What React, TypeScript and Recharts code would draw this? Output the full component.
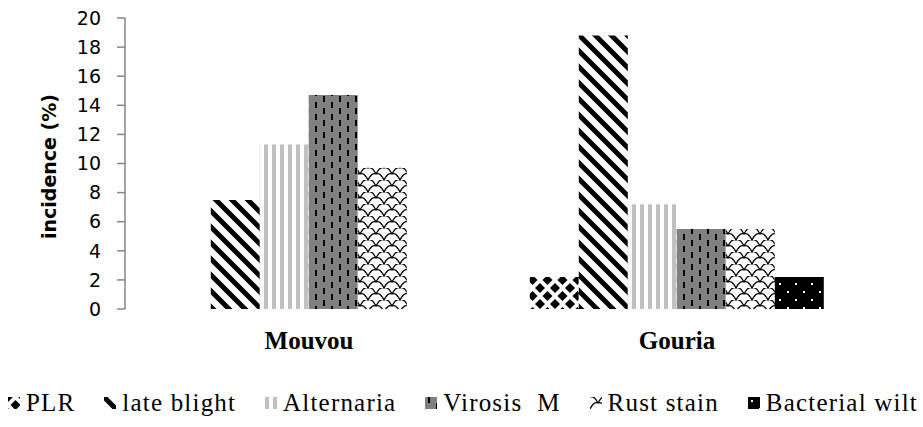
import React from "react";
import { BarChart, Bar, XAxis, YAxis, Legend } from "recharts";

const categories = ["Mouvou", "Gouria"];
const plr = [0, 2.2];
const lateBlight = [7.5, 18.8];
const alternaria = [11.3, 7.2];
const virosisM = [14.7, 5.5];
const rustStain = [9.7, 5.5];
const bacterialWilt = [0, 2.2];
const yTicks = [0, 2, 4, 6, 8, 10, 12, 14, 16, 18, 20];

const SERIES = [
  { key: "plr", name: "PLR", values: plr, fill: "url(#pat-plr)" },
  { key: "lateBlight", name: "late blight", values: lateBlight, fill: "url(#pat-late)" },
  { key: "alternaria", name: "Alternaria", values: alternaria, fill: "url(#pat-alt)" },
  { key: "virosisM", name: "Virosis  M", values: virosisM, fill: "url(#pat-vir)" },
  { key: "rustStain", name: "Rust stain", values: rustStain, fill: "url(#pat-rust)" },
  { key: "bacterialWilt", name: "Bacterial wilt", values: bacterialWilt, fill: "url(#pat-bact)" },
];

const data = categories.map((name, i) => {
  const row: Record<string, string | number> = { name };
  SERIES.forEach((s) => (row[s.key] = s.values[i]));
  return row;
});

const AXIS_GREY = "#868686";
const SANS = "DejaVu Sans";
const SERIF = "'Liberation Serif', serif";

function Patterns() {
  return (
    <svg width={0} height={0} style={{ position: "absolute" }}>
      <defs>
        <pattern id="pat-plr" width={15} height={16} patternUnits="userSpaceOnUse">
          <rect width={15} height={16} fill="#fff" />
          <polygon points="7.5,3 12.5,8 7.5,13 2.5,8" fill="#000" />
          <polygon points="0,-5 5,0 0,5 -5,0" fill="#000" />
          <polygon points="15,-5 20,0 15,5 10,0" fill="#000" />
          <polygon points="0,11 5,16 0,21 -5,16" fill="#000" />
          <polygon points="15,11 20,16 15,21 10,16" fill="#000" />
        </pattern>
        <pattern id="pat-late" width={16} height={16} patternUnits="userSpaceOnUse">
          <rect width={16} height={16} fill="#fff" />
          <path d="M-2,-2 L18,18 M-6,10 L6,22 M10,-6 L22,6" stroke="#000" strokeWidth={5} />
        </pattern>
        <pattern id="pat-alt" width={8} height={8} patternUnits="userSpaceOnUse">
          <rect width={8} height={8} fill="#fff" />
          <rect x={0} width={4} height={8} fill="#c0c0c0" />
        </pattern>
        <pattern id="pat-vir" width={16} height={12} patternUnits="userSpaceOnUse">
          <rect width={16} height={12} fill="#808080" />
          <rect x={3} y={0} width={2} height={6} fill="#000" />
          <rect x={11} y={6} width={2} height={6} fill="#000" />
        </pattern>
        <pattern id="pat-rust" width={16} height={12} patternUnits="userSpaceOnUse">
          <rect width={16} height={12} fill="#fff" />
          <path
            d="M0,12 Q4,4 8,6 Q12,4 16,12 M-8,6 Q-4,-2 0,0 Q4,-2 8,6 M8,6 Q12,-2 16,0 Q20,-2 24,6"
            stroke="#000"
            strokeWidth={1.3}
            fill="none"
          />
        </pattern>
        <pattern id="pat-bact" width={16} height={16} patternUnits="userSpaceOnUse">
          <rect width={16} height={16} fill="#000" />
          <rect x={3} y={3} width={2} height={2} fill="#fff" />
          <rect x={11} y={11} width={2} height={2} fill="#fff" />
        </pattern>
      </defs>
    </svg>
  );
}

function LegendContent() {
  return (
    <div
      style={{
        display: "flex",
        justifyContent: "space-between",
        alignItems: "center",
        lineHeight: "26px",
        color: "#000",
      }}
    >
      {SERIES.map((s) => (
        <span key={s.key} style={{ display: "flex", alignItems: "center" }}>
          <svg width={12} height={12} style={{ marginRight: 6 }}>
            <rect width={12} height={12} fill={s.fill} />
          </svg>
          <span style={{ fontFamily: SERIF, fontSize: 25, letterSpacing: 1.2, whiteSpace: "pre" }}>
            {s.name}
          </span>
        </span>
      ))}
    </div>
  );
}

function YLabel(props: any) {
  const vb = props.viewBox || { x: 0, y: 18, height: 291 };
  const x = 49;
  const y = vb.y + vb.height / 2 + 3;
  return (
    <text
      x={x}
      y={y}
      transform={`rotate(-90, ${x}, ${y})`}
      textAnchor="middle"
      dominantBaseline="central"
      fontFamily={SANS}
      fontWeight="bold"
      fontSize={19}
      fill="#000"
    >
      incidence (%)
    </text>
  );
}

export default function App() {
  return (
    <div style={{ position: "absolute", left: 0, top: 0, background: "#fff" }}>
      <Patterns />
      <BarChart
        width={923}
        height={427}
        data={data}
        margin={{ top: 18, right: 62, left: 0, bottom: 0 }}
        barCategoryGap="10%"
        barGap={0}
      >
        <XAxis
          xAxisId="frame"
          type="number"
          domain={[0, 2]}
          ticks={[0, 1, 2]}
          allowDataOverflow
          height={0}
          tick={false}
          tickSize={7}
          tickLine={{ stroke: AXIS_GREY, strokeWidth: 1.5 }}
          axisLine={{ stroke: AXIS_GREY, strokeWidth: 1.5 }}
        />
        <XAxis
          xAxisId="cat"
          dataKey="name"
          height={118}
          axisLine={false}
          tickLine={false}
          tickSize={6}
          tickMargin={16}
          tick={{ fontFamily: SERIF, fontWeight: "bold", fontSize: 25, fill: "#000" }}
        />
        <YAxis
          width={125}
          domain={[0, 20]}
          ticks={yTicks}
          interval={0}
          tickSize={8}
          tickMargin={16}
          tick={{ fontFamily: SANS, fontSize: 19, fill: "#000" }}
          tickLine={{ stroke: AXIS_GREY, strokeWidth: 1.5 }}
          axisLine={{ stroke: AXIS_GREY, strokeWidth: 1.5 }}
          label={<YLabel />}
        />
        <Legend
          layout="vertical"
          align="center"
          verticalAlign="middle"
          wrapperStyle={{ position: "absolute", top: 390, left: 8, width: 910 }}
          content={<LegendContent />}
        />
        {SERIES.map((s) => (
          <Bar
            key={s.key}
            xAxisId="cat"
            dataKey={s.key}
            name={s.name}
            fill={s.fill}
            isAnimationActive={false}
          />
        ))}
      </BarChart>
    </div>
  );
}
